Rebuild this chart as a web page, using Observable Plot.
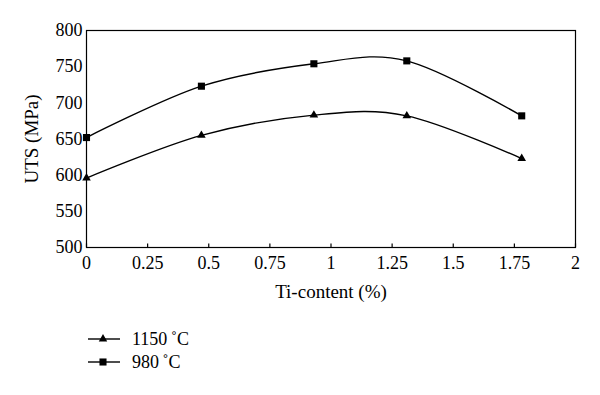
<!DOCTYPE html>
<html>
<head>
<meta charset="utf-8">
<script src="https://cdn.jsdelivr.net/npm/d3@7"></script>
<script src="https://cdn.jsdelivr.net/npm/@observablehq/plot@0.6"></script>
<style>
  html, body { margin: 0; padding: 0; background: #fff; }
  #wrap { position: relative; width: 600px; height: 395px; font-family: "Liberation Serif", "Times New Roman", serif; color: #000; }
  .leg { position: absolute; left: 88px; display: flex; align-items: center; font-size: 18px; line-height: 18px; }
  .leg svg { display: block; margin-right: 11px; }
</style>
</head>
<body>
<div id="wrap"></div>
<script>
const tiContent = [0, 0.47, 0.93, 1.31, 1.78];
const uts1150 = [596, 655, 683, 682, 623];
const uts980 = [652, 723, 754, 758, 682];
const seriesNames = ["1150\u2009˚C", "980\u2009˚C"];
const xTicks = [0, 0.25, 0.5, 0.75, 1, 1.25, 1.5, 1.75, 2];
const yTicks = [500, 550, 600, 650, 700, 750, 800];

const rows = [];
tiContent.forEach((t, i) => {
  rows.push({ti: t, uts: uts1150[i], s: seriesNames[0]});
  rows.push({ti: t, uts: uts980[i], s: seriesNames[1]});
});
const d1150 = rows.filter(d => d.s === seriesNames[0]);
const d980 = rows.filter(d => d.s === seriesNames[1]);

const chart = Plot.plot({
  width: 600,
  height: 310,
  marginLeft: 86,
  marginRight: 25,
  marginTop: 30,
  marginBottom: 63,
  style: { fontFamily: '"Liberation Serif", "Times New Roman", serif', fontSize: "18px", background: "#fff", color: "#000" },
  x: { domain: [0, 2] },
  y: { domain: [500, 800] },
  marks: [
    Plot.frame({ stroke: "#000", strokeWidth: 1.2 }),
    Plot.ruleX(xTicks, { y1: 500, y2: 505, stroke: "#000", strokeWidth: 1.2 }),
    Plot.axisX({ ticks: xTicks, tickSize: 0, tickPadding: 9, fontSize: 18, tickFormat: d => String(d), label: null }),
    Plot.axisX({ ticks: [], fontSize: 19, label: "Ti-content (%)", labelAnchor: "center", labelArrow: "none", labelOffset: 50 }),
    Plot.axisY({ ticks: yTicks, tickSize: 0, tickPadding: 4, fontSize: 18, tickFormat: d => String(d), label: null }),
    Plot.axisY({ ticks: [], fontSize: 19, label: "UTS (MPa)", labelAnchor: "center", labelArrow: "none", labelOffset: 62 }),
    Plot.line(d1150, { x: "ti", y: "uts", curve: "cardinal", tension: 0, stroke: "#000", strokeWidth: 1.4 }),
    Plot.line(d980, { x: "ti", y: "uts", curve: "cardinal", tension: 0, stroke: "#000", strokeWidth: 1.4 }),
    Plot.dot(d1150, { x: "ti", y: "uts", symbol: "triangle", r: 3.2, fill: "#000", stroke: "none" }),
    Plot.dot(d980, { x: "ti", y: "uts", symbol: "square", r: 4, fill: "#000", stroke: "none" })
  ]
});
const wrap = document.getElementById("wrap");
wrap.appendChild(chart);

const symbols = ["triangle", "square"];
const tops = [330, 353];
seriesNames.forEach((name, i) => {
  const row = document.createElement("div");
  row.className = "leg";
  row.style.top = tops[i] + "px";
  const sym = d3.symbol(symbols[i] === "triangle" ? d3.symbolTriangle : d3.symbolSquare, symbols[i] === "triangle" ? 31 : 50)();
  row.innerHTML = `<svg width="33" height="16" viewBox="0 0 33 16"><line x1="0" x2="32" y1="8" y2="8" stroke="#000" stroke-width="1.4"/><path d="${sym}" transform="translate(15,8)" fill="#000"/></svg><span>${name}</span>`;
  wrap.appendChild(row);
});
</script>
</body>
</html>
